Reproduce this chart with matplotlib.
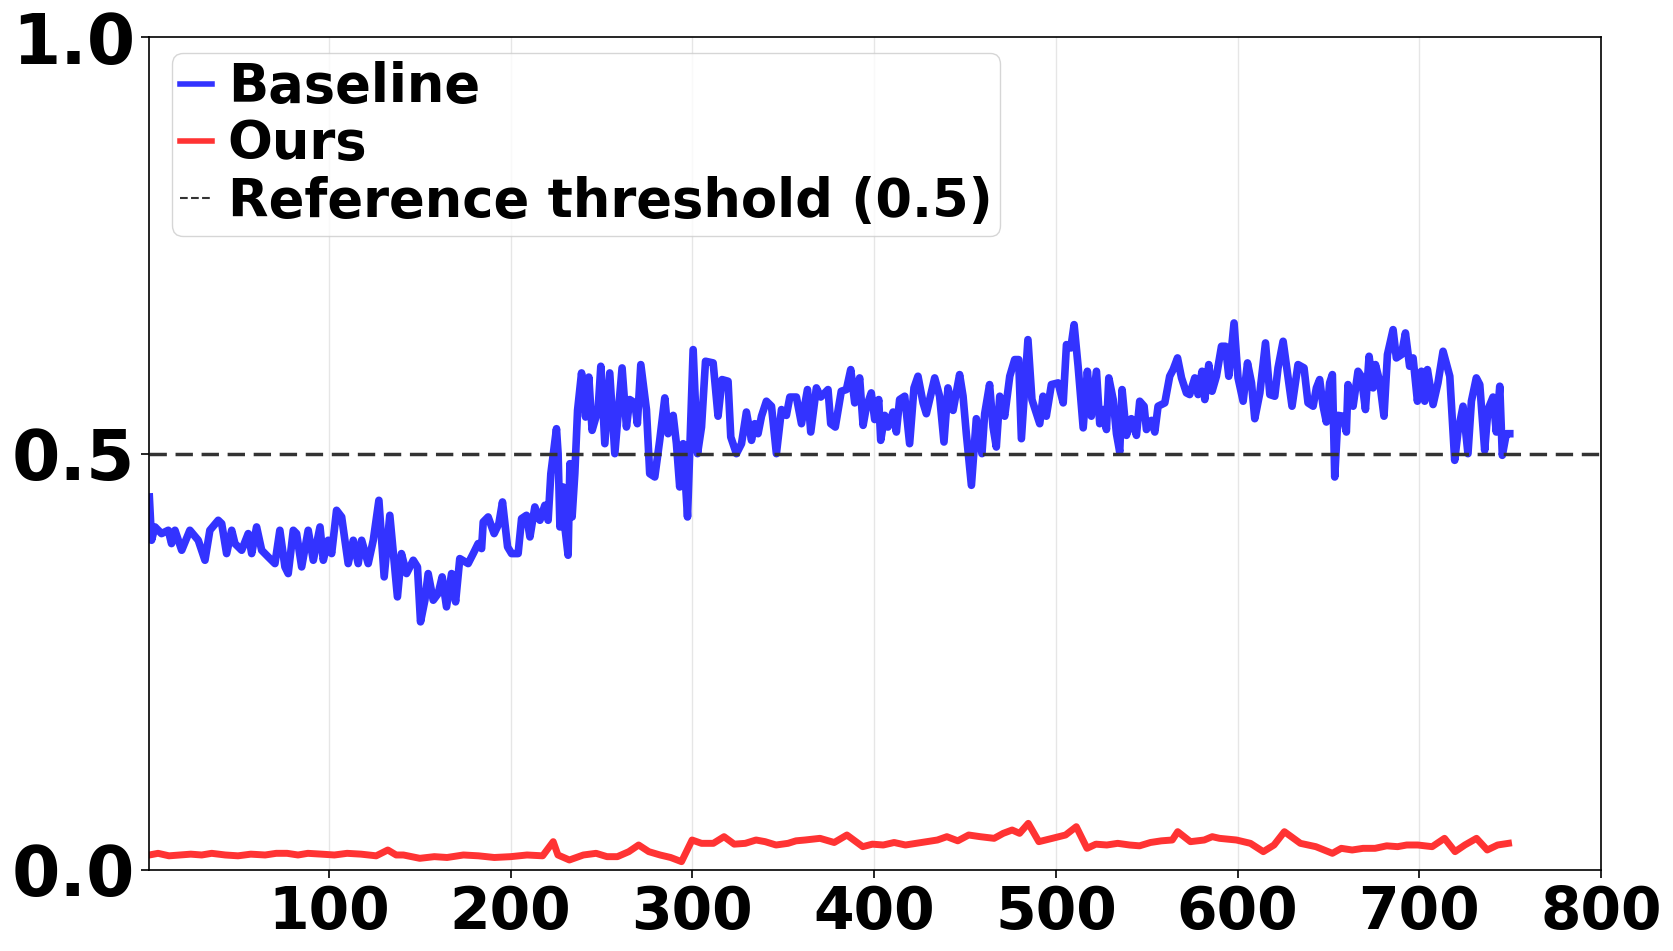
import matplotlib.pyplot as plt
from matplotlib.lines import Line2D

# Baseline (blue)
base_x = [1.2, 2.4, 4.3, 7.9, 11.6, 13.4, 15.3, 19.0, 23.5, 28.1, 31.8, 34.5, 39.1, 41.0, 43.7,
          46.5, 48.3, 52.0, 55.6, 57.5, 60.2, 63.0, 66.6, 70.3, 73.0, 75.8, 77.6, 80.4, 82.2,
          85.0, 88.6, 91.4, 95.1, 96.9, 99.6, 101.5, 104.2, 107.0, 110.6, 113.4, 116.1, 118.0,
          121.6, 124.4, 127.5, 130.4, 133.5, 137.7, 139.9, 142.7, 146.4, 148.7, 150.4, 152.8,
          154.6, 157.4, 160.1, 162.3, 164.7, 167.5, 169.7, 172.0, 176.6, 179.4, 182.1, 184.0,
          184.9, 187.6, 190.9, 193.5, 195.5, 198.3, 200.5, 204.1, 206.0, 208.7, 210.6, 213.3,
          216.1, 218.8, 220.6, 222.1, 225.2, 226.1, 227.1, 228.9, 229.8, 231.6, 232.6, 233.8,
          235.3, 236.8, 239.0, 241.2, 243.0, 244.8,
          248.1, 249.6, 251.8, 254.5, 257.3, 261.3, 263.7, 265.5, 268.3, 269.7, 271.6, 274.7,
          276.5, 279.3, 282.0, 284.8, 286.6, 289.4, 291.2, 293.0, 294.9, 297.3, 300.4, 302.8,
          305.0, 307.2, 311.4, 314.1, 316.3, 319.6, 321.1, 324.2, 327.0, 329.7, 332.5, 334.3,
          336.1, 338.0, 340.7, 343.5, 346.2, 349.0, 351.7, 353.6, 357.2, 360.0, 363.3, 365.1,
          368.2, 370.6,
          374.6, 376.1, 378.6, 381.9, 384.7, 387.1, 389.3, 392.0, 393.9, 395.7, 398.4, 400.3,
          402.5, 403.6, 405.8, 407.6, 410.4, 412.2, 414.0, 416.8, 419.5, 421.9, 424.1, 426.9,
          428.7, 430.5, 433.3, 436.0, 438.4, 440.6, 443.4, 447.0, 448.9, 450.7, 453.5, 456.2,
          459.3, 460.8, 463.5, 465.4, 467.2, 469.1, 471.8, 474.6, 477.3, 479.5, 481.0, 484.6,
          486.8, 491.1, 492.9, 494.7, 497.5,
          501.2, 504.0, 505.8, 508.2, 510.0, 512.2, 515.0, 517.3, 519.5, 522.3, 524.1, 526.0,
          527.8, 529.1, 531.5, 533.3, 535.1, 536.4, 538.8, 541.5, 544.3, 546.1, 548.5, 549.8,
          552.6, 554.4, 556.2, 559.9, 562.6, 564.5, 566.9, 569.1, 571.8, 573.6, 576.4, 578.2,
          580.4, 581.9, 584.1, 585.9, 588.3, 591.1, 593.3, 595.1, 598.0, 600.2, 603.0, 605.4,
          607.6, 609.4, 612.2, 615.3, 617.7, 620.4, 622.2, 625.0,
          629.9, 633.2, 636.5, 638.7, 641.5, 643.3, 645.1, 647.0, 648.8, 650.6, 652.1, 653.4,
          655.2, 658.0, 659.8, 660.7, 663.5, 666.2, 668.0, 670.3, 672.3, 674.5, 675.8, 678.1,
          680.5, 682.4, 685.5, 687.3, 690.1, 692.3, 694.6, 696.5, 698.9, 701.1, 702.9, 704.4,
          707.5, 710.2, 713.0, 716.7, 719.4, 721.2, 724.0, 726.7, 728.6, 731.3, 733.2, 735.9,
          737.7, 740.5, 742.3, 744.2, 745.6, 747.8, 749.7]
base_y = [0.448, 0.396, 0.412, 0.404, 0.408, 0.392, 0.408, 0.384, 0.408, 0.396, 0.372, 0.408,
          0.420, 0.416, 0.380, 0.408, 0.392, 0.384, 0.404, 0.380, 0.412, 0.384, 0.376, 0.368,
          0.408, 0.364, 0.356, 0.408, 0.404, 0.364, 0.408, 0.372, 0.412, 0.372, 0.396, 0.380,
          0.432, 0.424, 0.368, 0.396, 0.368, 0.396,
          0.368, 0.396, 0.444, 0.352, 0.426, 0.328, 0.380, 0.356, 0.372, 0.364, 0.298, 0.324,
          0.356, 0.324, 0.332, 0.352, 0.316, 0.356, 0.322, 0.374, 0.368, 0.380, 0.392, 0.386,
          0.418, 0.424, 0.404, 0.416, 0.442, 0.388, 0.380, 0.380, 0.422, 0.426, 0.400, 0.436,
          0.420, 0.438, 0.420, 0.476, 0.530, 0.500, 0.412, 0.460, 0.412, 0.378, 0.488, 0.424,
          0.476, 0.552, 0.597, 0.544, 0.592, 0.528,
          0.553, 0.605, 0.512, 0.597, 0.500, 0.603, 0.532, 0.565, 0.561, 0.536, 0.607, 0.553,
          0.476, 0.472, 0.516, 0.567, 0.524, 0.546, 0.512, 0.460, 0.512, 0.424, 0.625, 0.500,
          0.532, 0.611, 0.609, 0.545, 0.589, 0.587, 0.520, 0.500, 0.512, 0.550, 0.516, 0.536,
          0.524, 0.545, 0.563, 0.557, 0.500, 0.553, 0.546, 0.568, 0.568, 0.536, 0.577, 0.526,
          0.579, 0.568,
          0.577, 0.536, 0.532, 0.575, 0.577, 0.601, 0.561, 0.591, 0.534, 0.556, 0.573, 0.541,
          0.565, 0.516, 0.546, 0.532, 0.550, 0.526, 0.565, 0.569, 0.512, 0.579, 0.593, 0.561,
          0.548, 0.565, 0.591, 0.569, 0.514, 0.579, 0.552, 0.595, 0.569, 0.524, 0.462, 0.542,
          0.500, 0.548, 0.583, 0.532, 0.508, 0.569, 0.545, 0.593, 0.613, 0.613, 0.518, 0.637,
          0.565, 0.536, 0.569, 0.545, 0.583,
          0.585, 0.561, 0.631, 0.627, 0.655, 0.605, 0.531, 0.599, 0.545, 0.599, 0.536, 0.553,
          0.529, 0.591, 0.565, 0.524, 0.502, 0.577, 0.522, 0.542, 0.522, 0.563, 0.557, 0.529,
          0.540, 0.526, 0.557, 0.561, 0.593, 0.601, 0.615, 0.591, 0.573, 0.571, 0.591, 0.571,
          0.599, 0.565, 0.607, 0.575, 0.593, 0.629, 0.629, 0.593, 0.657, 0.591, 0.563, 0.609,
          0.585, 0.542, 0.573, 0.633, 0.571, 0.569, 0.603, 0.635,
          0.557, 0.607, 0.603, 0.561, 0.557, 0.579, 0.589, 0.557, 0.538, 0.585, 0.595, 0.472,
          0.546, 0.545, 0.526, 0.583, 0.557, 0.599, 0.593, 0.553, 0.617, 0.579, 0.607, 0.587,
          0.545, 0.619, 0.649, 0.615, 0.619, 0.645, 0.605, 0.615, 0.563, 0.599, 0.563, 0.601,
          0.559, 0.585, 0.623, 0.593, 0.492, 0.526, 0.557, 0.500, 0.563, 0.591, 0.583, 0.504,
          0.553, 0.568, 0.526, 0.581, 0.498, 0.524, 0.524]

# Ours (red)
ours_x = [1.2, 6, 12, 18, 24, 30, 35.5, 43, 50, 57, 64.9, 71, 77, 83, 88.4, 96, 103, 110, 117.7,
          126, 132.4, 137, 141, 150.0, 158, 165, 174, 182.3, 191, 200, 209, 217.6, 223.4, 226,
          232.3, 240, 247.0, 253, 258.7, 265, 270.4, 276, 282.2, 288, 294.0, 299.8,
          305, 311.5, 317.4, 323, 329.1, 335, 340, 346, 352.6, 357, 362, 370.2, 378, 385.0,
          393.7, 399, 405, 411, 417.2, 426, 434.8, 440, 446, 452, 458.3, 466, 471, 475.9,
          480, 484.8, 490.6, 498, 505.3, 511.2, 517.1, 522, 528, 534, 540.5, 546, 552, 558,
          564.0, 567.0, 574, 581.6, 586, 590, 599.3, 607, 614.1, 620, 625.7, 634.5,
          643, 652.1, 657, 663, 669, 675.6, 682, 688, 693, 699.1, 707, 713.8, 719.6, 725,
          731.4, 737.3, 743, 749.0]
ours_y = [0.018, 0.020, 0.017, 0.018, 0.019, 0.018, 0.020, 0.018, 0.017, 0.019, 0.018, 0.020,
          0.020, 0.018, 0.020, 0.019, 0.018, 0.020, 0.019, 0.017, 0.024, 0.018, 0.018, 0.014,
          0.016, 0.015, 0.018, 0.017, 0.015, 0.016, 0.018, 0.017, 0.034, 0.018, 0.012, 0.018,
          0.020, 0.016, 0.016, 0.022, 0.030, 0.022, 0.018, 0.015, 0.010, 0.036,
          0.032, 0.032, 0.040, 0.031, 0.032, 0.036, 0.034, 0.030, 0.032, 0.035, 0.036, 0.038,
          0.033, 0.042, 0.028, 0.031, 0.030, 0.033, 0.030, 0.033, 0.036, 0.040, 0.035, 0.042,
          0.040, 0.038, 0.044, 0.048, 0.044, 0.056, 0.034, 0.038, 0.042, 0.052, 0.026, 0.031,
          0.030, 0.032, 0.030, 0.029, 0.033, 0.035, 0.036, 0.046, 0.034, 0.036, 0.040, 0.038,
          0.036, 0.032, 0.022, 0.030, 0.046, 0.032, 0.028, 0.020, 0.026, 0.024, 0.026, 0.026,
          0.029, 0.028, 0.030, 0.030, 0.028, 0.038, 0.022, 0.030, 0.038, 0.024, 0.030, 0.032]

threshold = 0.5
xticks = [100, 200, 300, 400, 500, 600, 700, 800]
yticks = [0.0, 0.5, 1.0]

fig = plt.figure(figsize=(16.74, 9.51), dpi=100)
ax = fig.add_axes([0.089, 0.0852, 0.8675, 0.8755])

ax.plot(base_x, base_y, color='#3333ff', lw=5.5, solid_joinstyle='round')
ax.plot(ours_x, ours_y, color='#ff3333', lw=5, solid_joinstyle='round')
ax.axhline(threshold, color='#333333', lw=2.5, ls=(0, (5, 2.5)))

ax.set_xlim(1, 800)
ax.set_ylim(0, 1)
ax.set_xticks(xticks)
ax.set_yticks(yticks)
ax.set_xticklabels([str(t) for t in xticks], fontsize=42, fontweight='bold')
ax.set_yticklabels(['%.1f' % t for t in yticks], fontsize=50, fontweight='bold')
ax.tick_params(axis='both', length=6, width=1.2, pad=4)
ax.grid(axis='x', color='#e6e6e6', lw=1)
ax.set_axisbelow(True)
for s in ax.spines.values():
    s.set_linewidth(1.2)

handles = [Line2D([], [], color='#3333ff', lw=4),
           Line2D([], [], color='#ff3333', lw=4),
           Line2D([], [], color='#333333', lw=1.5, ls='--')]
ax.legend(handles, ['Baseline', 'Ours', 'Reference threshold (0.5)'],
          loc='upper left', bbox_to_anchor=(0.016, 0.981), borderaxespad=0,
          prop={'size': 38, 'weight': 'bold'},
          handlelength=0.6, handletextpad=0.3, labelspacing=0.1, borderpad=0.15)

fig.savefig('out.png', dpi=100)
